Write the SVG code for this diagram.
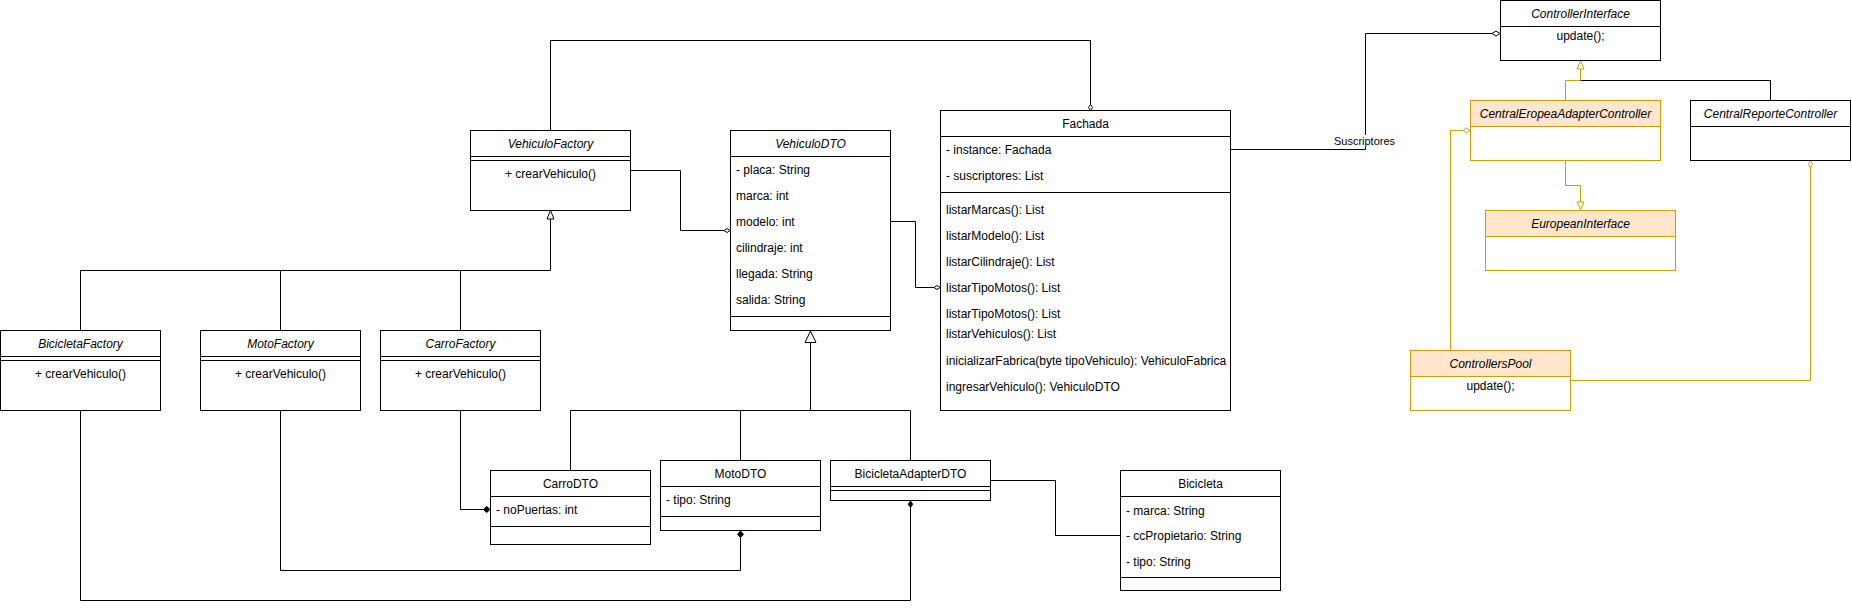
<svg xmlns="http://www.w3.org/2000/svg" width="1852" height="611" viewBox="0 0 1852 611">
<style>
.box{fill:#fff;stroke:#000;stroke-width:1}
.hd{fill:#ffe6cc;stroke:#d79b00;stroke-width:1}
.ob{fill:#fff;stroke:#d79b00;stroke-width:1}
.sep{stroke:#000;stroke-width:1;fill:none}
.t{font-family:"Liberation Sans",Arial,Helvetica,sans-serif;font-size:12px;fill:#000}
.s{font-size:11px}
.i{font-style:italic}
.c{text-anchor:middle}
.ln{fill:none;stroke:#000;stroke-width:1}
.oln{fill:none;stroke:#d79b00;stroke-width:1}
.od{fill:#fff;stroke:#000;stroke-width:1}
.fd{fill:#000;stroke:#000;stroke-width:1}
.ood{fill:#fff;stroke:#d79b00;stroke-width:1}
</style>
<rect width="1852" height="611" fill="#fff"/>

<g id="connectors">
  <path class="ln" d="M550.5,130 V40.5 H1090.5 V105"/>
  <polygon class="od" points="1090.5,110.5 1088.5,107.5 1090.5,104.5 1092.5,107.5"/>
  <path class="ln" d="M630,170.5 H680.5 V230.5 H724"/>
  <polygon class="od" points="730,230.5 727,228.5 724,230.5 727,232.5"/>
  <path class="ln" d="M890,221.5 H915.5 V287.5 H934"/>
  <polygon class="od" points="940,287.5 937,285.5 934,287.5 937,289.5"/>
  <path class="ln" d="M1230,149.5 H1365.5 V33.5 H1492"/>
  <polygon class="od" points="1500,33.5 1496,31 1492,33.5 1496,36"/>
  <rect x="1334" y="135" width="61" height="12" fill="#fff"/>
  <text class="t s c" x="1364.5" y="145">Suscriptores</text>
  <path class="ln" d="M80.5,330 V270.5 H550.5 V219 M280.5,330 V270.5 M460.5,330 V270.5"/>
  <polygon class="od" points="550.5,210.5 547,219 554,219"/>
  <path class="ln" d="M570.5,470 V410.5 H910.5 V460 M740.5,460 V410.5 M810.5,410.5 V342.5"/>
  <polygon class="od" points="810.5,331 805,342.5 816,342.5"/>
  <path class="ln" d="M80.5,410 V600.5 H910.5 V507"/>
  <polygon class="fd" points="910.5,501 908.3,504.3 910.5,507.5 912.7,504.3"/>
  <path class="ln" d="M280.5,410 V570.5 H740.5 V537.5"/>
  <polygon class="fd" points="740.5,531 737.5,534.3 740.5,537.5 743.5,534.3"/>
  <path class="ln" d="M460.5,410 V509.5 H483.5"/>
  <polygon class="fd" points="490,509.5 486.7,506.5 483.5,509.5 486.7,512.5"/>
  <path class="ln" d="M990,480.5 H1055.5 V535.5 H1120"/>
  <path class="oln" d="M1565.5,100 V80.5 H1580.5 V69"/>
  <polygon class="ood" points="1580.5,61 1577,69 1584,69"/>
  <path class="ln" d="M1580.5,80.5 H1770.5 V100"/>
  <path class="oln" d="M1565.5,160 V185.5 H1580.5 V202"/>
  <polygon class="ood" points="1580.5,209.5 1577,202 1584,202"/>
  <path class="oln" d="M1450.5,350 V130.5 H1463"/>
  <polygon class="ood" points="1470,130.5 1466.5,128 1463,130.5 1466.5,133"/>
  <path class="oln" d="M1570,380.5 H1810.5 V168"/>
  <polygon class="ood" points="1810.5,160.5 1808.5,164.2 1810.5,168 1812.5,164.2"/>
</g>

<g id="VehiculoFactory">
  <rect class="box" x="470.5" y="130.5" width="160" height="80"/>
  <path class="sep" d="M470.5,156.5 H630.5 M470.5,160.5 H630.5"/>
  <text class="t i c" x="550.5" y="148">VehiculoFactory</text>
  <text class="t c" x="550.5" y="178">+ crearVehiculo()</text>
</g>

<g id="BicicletaFactory">
  <rect class="box" x="0.5" y="330.5" width="160" height="80"/>
  <path class="sep" d="M0.5,356.5 H160.5 M0.5,360.5 H160.5"/>
  <text class="t i c" x="80.5" y="348">BicicletaFactory</text>
  <text class="t c" x="80.5" y="378">+ crearVehiculo()</text>
</g>

<g id="MotoFactory">
  <rect class="box" x="200.5" y="330.5" width="160" height="80"/>
  <path class="sep" d="M200.5,356.5 H360.5 M200.5,360.5 H360.5"/>
  <text class="t i c" x="280.5" y="348">MotoFactory</text>
  <text class="t c" x="280.5" y="378">+ crearVehiculo()</text>
</g>

<g id="CarroFactory">
  <rect class="box" x="380.5" y="330.5" width="160" height="80"/>
  <path class="sep" d="M380.5,356.5 H540.5 M380.5,360.5 H540.5"/>
  <text class="t i c" x="460.5" y="348">CarroFactory</text>
  <text class="t c" x="460.5" y="378">+ crearVehiculo()</text>
</g>

<g id="VehiculoDTO">
  <rect class="box" x="730.5" y="130.5" width="160" height="200"/>
  <path class="sep" d="M730.5,156.5 H890.5 M730.5,316.5 H890.5"/>
  <text class="t i c" x="810.5" y="148">VehiculoDTO</text>
  <text class="t" x="736" y="174">- placa: String</text>
  <text class="t" x="736" y="200">marca: int</text>
  <text class="t" x="736" y="226">modelo: int</text>
  <text class="t" x="736" y="252">cilindraje: int</text>
  <text class="t" x="736" y="278">llegada: String</text>
  <text class="t" x="736" y="304">salida: String</text>
</g>

<g id="Fachada">
  <rect class="box" x="940.5" y="110.5" width="290" height="300"/>
  <path class="sep" d="M940.5,136.5 H1230.5 M940.5,192.5 H1230.5"/>
  <text class="t c" x="1085.5" y="128">Fachada</text>
  <text class="t" x="946" y="154">- instance: Fachada</text>
  <text class="t" x="946" y="180">- suscriptores: List</text>
  <text class="t" x="946" y="214">listarMarcas(): List</text>
  <text class="t" x="946" y="240">listarModelo(): List</text>
  <text class="t" x="946" y="266">listarCilindraje(): List</text>
  <text class="t" x="946" y="292">listarTipoMotos(): List</text>
  <text class="t" x="946" y="318">listarTipoMotos(): List</text>
  <text class="t" x="946" y="338">listarVehiculos(): List</text>
  <text class="t" x="946" y="364.5">inicializarFabrica(byte tipoVehiculo): VehiculoFabrica</text>
  <text class="t" x="946" y="390.5">ingresarVehiculo(): VehiculoDTO</text>
</g>

<g id="CarroDTO">
  <rect class="box" x="490.5" y="470.5" width="160" height="74"/>
  <path class="sep" d="M490.5,496.5 H650.5 M490.5,526.5 H650.5"/>
  <text class="t c" x="570.5" y="488">CarroDTO</text>
  <text class="t" x="496" y="514">- noPuertas: int</text>
</g>

<g id="MotoDTO">
  <rect class="box" x="660.5" y="460.5" width="160" height="70"/>
  <path class="sep" d="M660.5,486.5 H820.5 M660.5,516.5 H820.5"/>
  <text class="t c" x="740.5" y="478">MotoDTO</text>
  <text class="t" x="666" y="504">- tipo: String</text>
</g>

<g id="BicicletaAdapterDTO">
  <rect class="box" x="830.5" y="460.5" width="160" height="40"/>
  <path class="sep" d="M830.5,486.5 H990.5 M830.5,490.5 H990.5"/>
  <text class="t c" x="910.5" y="478">BicicletaAdapterDTO</text>
</g>

<g id="Bicicleta">
  <rect class="box" x="1120.5" y="470.5" width="160" height="120"/>
  <path class="sep" d="M1120.5,496.5 H1280.5 M1120.5,577.5 H1280.5"/>
  <text class="t c" x="1200.5" y="488">Bicicleta</text>
  <text class="t" x="1126" y="514.5">- marca: String</text>
  <text class="t" x="1126" y="540">- ccPropietario: String</text>
  <text class="t" x="1126" y="565.5">- tipo: String</text>
</g>

<g id="ControllerInterface">
  <rect class="box" x="1500.5" y="0.5" width="160" height="60"/>
  <path class="sep" d="M1500.5,26.5 H1660.5"/>
  <text class="t i c" x="1580.5" y="17.5">ControllerInterface</text>
  <text class="t c" x="1580.5" y="40">update();</text>
</g>

<g id="CentralEropeaAdapterController">
  <rect class="ob" x="1470.5" y="100.5" width="190" height="60"/>
  <rect class="hd" x="1470.5" y="100.5" width="190" height="26"/>
  <text class="t i c" x="1565.5" y="117.7">CentralEropeaAdapterController</text>
</g>

<g id="CentralReporteController">
  <rect class="box" x="1690.5" y="100.5" width="160" height="60"/>
  <path class="sep" d="M1690.5,126.5 H1850.5"/>
  <text class="t i c" x="1770.5" y="117.7">CentralReporteController</text>
</g>

<g id="EuropeanInterface">
  <rect class="ob" x="1485.5" y="210.5" width="190" height="60"/>
  <rect class="hd" x="1485.5" y="210.5" width="190" height="26"/>
  <text class="t i c" x="1580.5" y="227.7">EuropeanInterface</text>
</g>

<g id="ControllersPool">
  <rect class="ob" x="1410.5" y="350.5" width="160" height="60"/>
  <rect class="hd" x="1410.5" y="350.5" width="160" height="26"/>
  <text class="t i c" x="1490.5" y="367.7">ControllersPool</text>
  <text class="t c" x="1490.5" y="390">update();</text>
</g>
</svg>
